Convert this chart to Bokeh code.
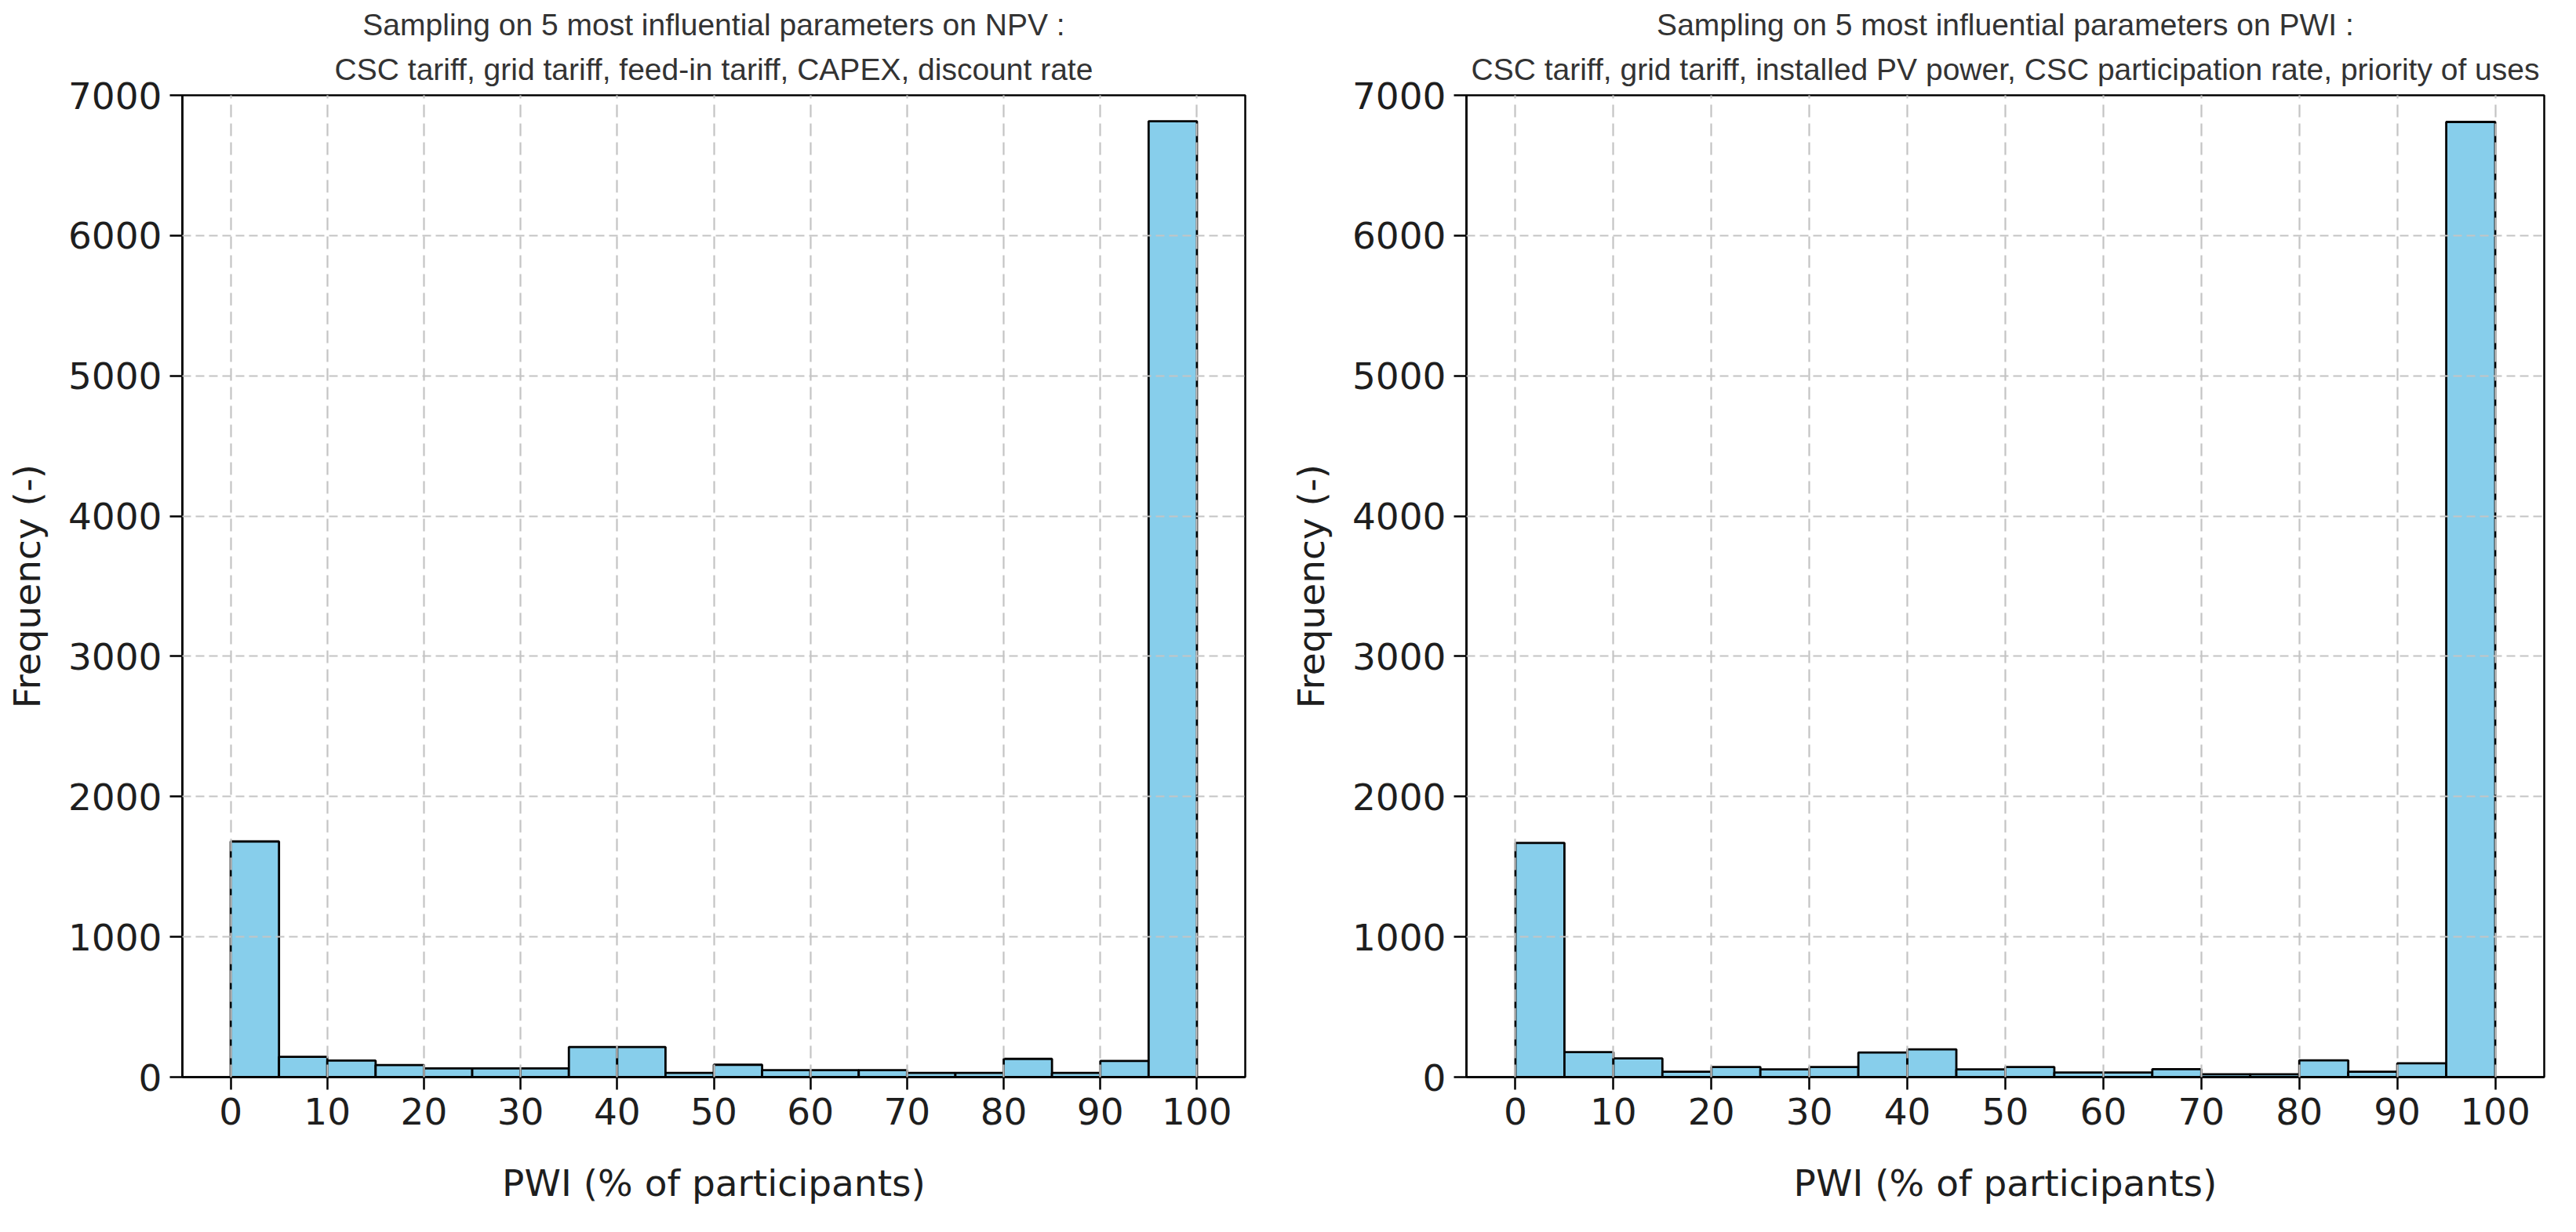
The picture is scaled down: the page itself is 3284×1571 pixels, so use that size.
from bokeh.plotting import figure
from bokeh.layouts import row
from bokeh.models import Title, FixedTicker, Range1d, ColumnDataSource
from bokeh.embed import file_html
from bokeh.resources import INLINE

# ---- data ----
bin_edges = [0, 5, 10, 15, 20, 25, 30, 35, 40, 45, 50, 55, 60, 65, 70, 75, 80, 85, 90, 95, 100]
npv_counts = [1680, 145, 118, 86, 62, 62, 62, 215, 215, 30, 88, 50, 50, 50, 30, 30, 130, 30, 115, 6815]
pwi_counts = [1670, 178, 133, 38, 72, 55, 72, 175, 198, 55, 72, 33, 33, 57, 20, 20, 120, 38, 98, 6810]
x_ticks = [0, 10, 20, 30, 40, 50, 60, 70, 80, 90, 100]
y_ticks = [0, 1000, 2000, 3000, 4000, 5000, 6000, 7000]

titles_npv = ["Sampling on 5 most influential parameters on NPV :",
              "CSC tariff, grid tariff, feed-in tariff, CAPEX, discount rate"]
titles_pwi = ["Sampling on 5 most influential parameters on PWI :",
              "CSC tariff, grid tariff, installed PV power, CSC participation rate, priority of uses"]
x_label = "PWI (% of participants)"
y_label = "Frequency (-)"

TICK_FONT = "DejaVu Sans"
TITLE_FONT = "Liberation Sans"


def make(counts, titles, width, mb_left, mb_right, mb_top, mb_bottom, title_offset, ylab_standoff):
    p = figure(width=width, height=1555, output_backend="svg", toolbar_location=None,
               x_range=Range1d(-5, 105), y_range=Range1d(0, 7000),
               min_border_left=mb_left, min_border_right=mb_right,
               min_border_top=mb_top, min_border_bottom=mb_bottom)
    src = ColumnDataSource(dict(left=bin_edges[:-1], right=bin_edges[1:],
                                top=counts, bottom=[0] * len(counts)))
    p.quad(left="left", right="right", top="top", bottom="bottom", source=src,
           fill_color="#87CEEB", line_color="black", line_width=2.8)

    # titles (line 2 closest to the plot)
    p.add_layout(Title(text=titles[1], text_font=TITLE_FONT, text_font_size="39px",
                       text_font_style="normal", text_color="#333333", align="center",
                       standoff=24, offset=title_offset), "above")
    p.add_layout(Title(text=titles[0], text_font=TITLE_FONT, text_font_size="39px",
                       text_font_style="normal", text_color="#333333", align="center",
                       standoff=0, offset=title_offset), "above")

    p.xaxis.ticker = FixedTicker(ticks=x_ticks)
    p.yaxis.ticker = FixedTicker(ticks=y_ticks)
    for ax in (p.xaxis, p.yaxis):
        ax.major_label_text_font = TICK_FONT
        ax.major_label_text_font_size = "47px"
        ax.major_label_text_color = "#1e1e1e"
        ax.axis_label_text_font = TICK_FONT
        ax.axis_label_text_font_size = "47px"
        ax.axis_label_text_font_style = "normal"
        ax.axis_label_text_color = "#1e1e1e"
        ax.major_tick_out = 16
        ax.major_tick_in = 0
        ax.minor_tick_line_color = None
        ax.major_tick_line_width = 2.5
        ax.major_tick_line_color = "black"
        ax.axis_line_width = 2.5
        ax.axis_line_color = "black"
    p.xaxis.axis_label = x_label
    p.yaxis.axis_label = y_label
    p.xaxis.major_label_standoff = 10
    p.yaxis.major_label_standoff = 10
    p.xaxis.axis_label_standoff = 44
    p.yaxis.axis_label_standoff = ylab_standoff

    p.outline_line_color = "black"
    p.outline_line_width = 2.5
    p.outline_line_alpha = 1.0

    p.xgrid.grid_line_color = "#c4c4c4"
    p.xgrid.grid_line_width = 2.2
    p.xgrid.grid_line_dash = "16 8"
    p.ygrid.grid_line_color = "#c4c4c4"
    p.ygrid.grid_line_width = 2.2
    p.ygrid.grid_line_dash = "11 6"
    p.xgrid.level = "overlay"
    p.ygrid.level = "overlay"
    p.background_fill_color = "white"
    p.border_fill_color = "white"
    return p


p1 = make(npv_counts, titles_npv, 1640, 232, 53, 121, 182, -21, 22)
p2 = make(pwi_counts, titles_pwi, 1628, 210, 25, 117, 175, 0, 22)

layout = row(p1, p2)
open("out.html", "w").write(file_html(layout, INLINE))
